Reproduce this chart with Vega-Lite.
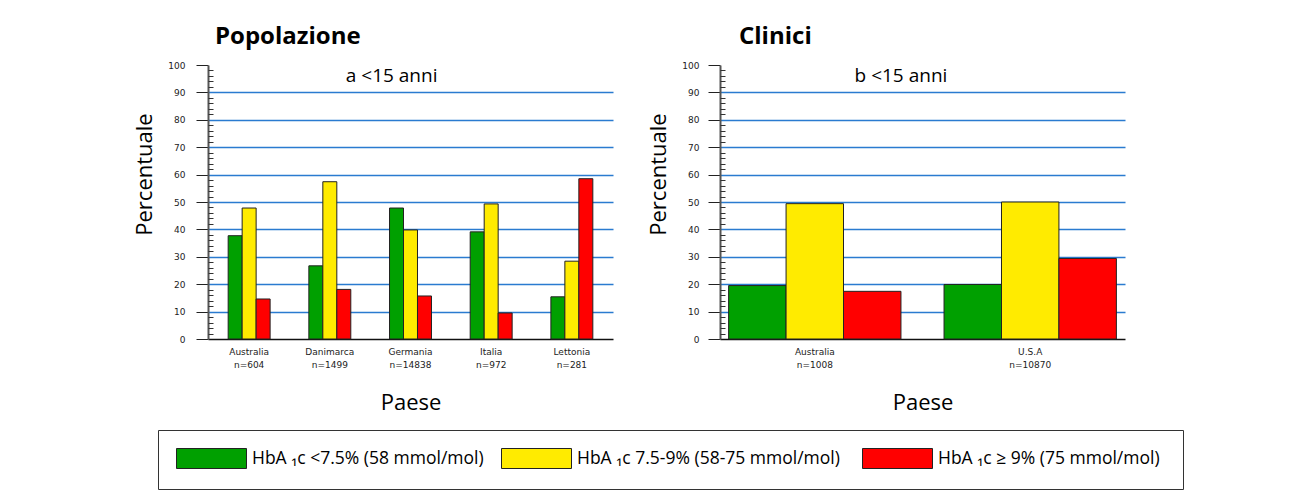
{
  "$schema": "https://vega.github.io/schema/vega-lite/v6.json",
  "background": "white",
  "padding": {"left": 133, "top": 25, "right": 5, "bottom": 5},
  "data": {"values": [
    {"pannello": "Popolazione", "paese": "Australia\nn=604", "livello": "HbA ₁c <7.5% (58 mmol/mol)", "pct": 37.7},
    {"pannello": "Popolazione", "paese": "Australia\nn=604", "livello": "HbA ₁c  7.5-9% (58-75 mmol/mol)", "pct": 47.8},
    {"pannello": "Popolazione", "paese": "Australia\nn=604", "livello": "HbA ₁c  ≥ 9% (75 mmol/mol)", "pct": 14.6},
    {"pannello": "Popolazione", "paese": "Danimarca\nn=1499", "livello": "HbA ₁c <7.5% (58 mmol/mol)", "pct": 26.7},
    {"pannello": "Popolazione", "paese": "Danimarca\nn=1499", "livello": "HbA ₁c  7.5-9% (58-75 mmol/mol)", "pct": 57.4},
    {"pannello": "Popolazione", "paese": "Danimarca\nn=1499", "livello": "HbA ₁c  ≥ 9% (75 mmol/mol)", "pct": 18.1},
    {"pannello": "Popolazione", "paese": "Germania\nn=14838", "livello": "HbA ₁c <7.5% (58 mmol/mol)", "pct": 47.8},
    {"pannello": "Popolazione", "paese": "Germania\nn=14838", "livello": "HbA ₁c  7.5-9% (58-75 mmol/mol)", "pct": 39.8},
    {"pannello": "Popolazione", "paese": "Germania\nn=14838", "livello": "HbA ₁c  ≥ 9% (75 mmol/mol)", "pct": 15.7},
    {"pannello": "Popolazione", "paese": "Italia\nn=972", "livello": "HbA ₁c <7.5% (58 mmol/mol)", "pct": 39.1},
    {"pannello": "Popolazione", "paese": "Italia\nn=972", "livello": "HbA ₁c  7.5-9% (58-75 mmol/mol)", "pct": 49.3},
    {"pannello": "Popolazione", "paese": "Italia\nn=972", "livello": "HbA ₁c  ≥ 9% (75 mmol/mol)", "pct": 9.5},
    {"pannello": "Popolazione", "paese": "Lettonia\nn=281", "livello": "HbA ₁c <7.5% (58 mmol/mol)", "pct": 15.4},
    {"pannello": "Popolazione", "paese": "Lettonia\nn=281", "livello": "HbA ₁c  7.5-9% (58-75 mmol/mol)", "pct": 28.4},
    {"pannello": "Popolazione", "paese": "Lettonia\nn=281", "livello": "HbA ₁c  ≥ 9% (75 mmol/mol)", "pct": 58.5},
    {"pannello": "Clinici", "paese": "Australia\nn=1008", "livello": "HbA ₁c <7.5% (58 mmol/mol)", "pct": 19.5},
    {"pannello": "Clinici", "paese": "Australia\nn=1008", "livello": "HbA ₁c  7.5-9% (58-75 mmol/mol)", "pct": 49.4},
    {"pannello": "Clinici", "paese": "Australia\nn=1008", "livello": "HbA ₁c  ≥ 9% (75 mmol/mol)", "pct": 17.4},
    {"pannello": "Clinici", "paese": "U.S.A\nn=10870", "livello": "HbA ₁c <7.5% (58 mmol/mol)", "pct": 19.9},
    {"pannello": "Clinici", "paese": "U.S.A\nn=10870", "livello": "HbA ₁c  7.5-9% (58-75 mmol/mol)", "pct": 50.0},
    {"pannello": "Clinici", "paese": "U.S.A\nn=10870", "livello": "HbA ₁c  ≥ 9% (75 mmol/mol)", "pct": 29.4}
  ]},
  "spacing": 34,
  "resolve": {"scale": {"x": "independent", "xOffset": "independent", "y": "independent", "color": "shared"}, "legend": {"color": "shared"}},
  "hconcat": [
    {
      "title": {"text": "Popolazione", "anchor": "start", "frame": "group", "dx": 7, "fontSize": 24, "font": "Open Sans", "fontWeight": "bold", "baseline": "alphabetic", "offset": -7, "color": "#000"},
      "width": 405,
      "height": 274,
      "layer": [
        {
          "transform": [{"filter": "datum.pannello === 'Popolazione'"}],
          "mark": {"type": "bar", "stroke": "#222", "strokeWidth": 1},
          "encoding": {
            "x": {"field": "paese", "type": "nominal", "sort": null,
              "scale": {"paddingInner": 0.48, "paddingOuter": 0.25},
              "axis": {"title": "Paese", "titleFont": "Open Sans", "titleFontSize": 22, "titleFontWeight": "normal", "titleColor": "#000", "titlePadding": 23,
                "labelExpr": "split(datum.label, '\\n')", "labelFont": "DejaVu Sans", "labelFontSize": 9, "labelColor": "#222", "labelPadding": 8, "labelLineHeight": 13, "labelAngle": 0,
                "ticks": false, "domainColor": "#111", "domainWidth": 1.5, "grid": false}},
            "xOffset": {"field": "livello", "type": "nominal", "sort": null,
              "scale": {"domain": ["HbA ₁c <7.5% (58 mmol/mol)", "HbA ₁c  7.5-9% (58-75 mmol/mol)", "HbA ₁c  ≥ 9% (75 mmol/mol)"], "paddingInner": 0, "paddingOuter": 0}},
            "y": {"field": "pct", "type": "quantitative", "scale": {"domain": [0, 100], "nice": false},
              "axis": {"values": [0, 10, 20, 30, 40, 50, 60, 70, 80, 90, 100], "title": "Percentuale", "titleFont": "Open Sans", "titleFontSize": 22, "titleFontWeight": "normal", "titleColor": "#000", "titlePadding": 11, "titleY": 109,
                "labelFont": "DejaVu Sans", "labelFontSize": 9, "labelColor": "#222", "labelPadding": 11,
                "tickSize": 12, "tickColor": "#222", "tickWidth": 1, "domainColor": "#555", "domainWidth": 2,
                "grid": true, "gridColor": "#2a7bd0", "gridWidth": 1.5,
                "gridOpacity": {"condition": {"test": "datum.value === 0 || datum.value === 100", "value": 0}, "value": 1}}},
            "color": {"field": "livello", "type": "nominal",
              "scale": {"domain": ["HbA ₁c <7.5% (58 mmol/mol)", "HbA ₁c  7.5-9% (58-75 mmol/mol)", "HbA ₁c  ≥ 9% (75 mmol/mol)"], "range": ["#00a000", "#ffeb00", "#ff0000"]},
              "legend": {"title": null, "orient": "none", "legendX": -50, "legendY": 365}}
          }
        },
        {
          "data": {"values": [{"etichetta": "a <15 anni"}]},
          "mark": {"type": "text", "font": "Open Sans", "fontSize": 19, "baseline": "middle", "align": "center", "color": "#000"},
          "encoding": {
            "text": {"field": "etichetta"},
            "x": {"datum": "Germania\nn=14838", "type": "nominal", "bandPosition": 0.05},
            "y": {"datum": 96, "type": "quantitative",
              "axis": {"orient": "left", "values": [2, 4, 6, 8, 12, 14, 16, 18, 22, 24, 26, 28, 32, 34, 36, 38, 42, 44, 46, 48, 52, 54, 56, 58, 62, 64, 66, 68, 72, 74, 76, 78, 82, 84, 86, 88, 92, 94, 96, 98],
                "tickSize": -5, "tickColor": "#333", "labels": false, "domain": false, "grid": false, "title": null}}
          }
        }
      ],
      "resolve": {"axis": {"y": "independent"}}
    },
    {
      "title": {"text": "Clinici", "anchor": "start", "frame": "group", "dx": 19, "fontSize": 24, "font": "Open Sans", "fontWeight": "bold", "baseline": "alphabetic", "offset": -7, "color": "#000"},
      "width": 405,
      "height": 274,
      "layer": [
        {
          "transform": [{"filter": "datum.pannello === 'Clinici'"}],
          "mark": {"type": "bar", "stroke": "#222", "strokeWidth": 1},
          "encoding": {
            "x": {"field": "paese", "type": "nominal", "sort": null,
              "scale": {"paddingInner": 0.2, "paddingOuter": 0.04},
              "axis": {"title": "Paese", "titleFont": "Open Sans", "titleFontSize": 22, "titleFontWeight": "normal", "titleColor": "#000", "titlePadding": 23,
                "labelExpr": "split(datum.label, '\\n')", "labelFont": "DejaVu Sans", "labelFontSize": 9, "labelColor": "#222", "labelPadding": 8, "labelLineHeight": 13, "labelAngle": 0,
                "ticks": false, "domainColor": "#111", "domainWidth": 1.5, "grid": false}},
            "xOffset": {"field": "livello", "type": "nominal", "sort": null,
              "scale": {"domain": ["HbA ₁c <7.5% (58 mmol/mol)", "HbA ₁c  7.5-9% (58-75 mmol/mol)", "HbA ₁c  ≥ 9% (75 mmol/mol)"], "paddingInner": 0, "paddingOuter": 0}},
            "y": {"field": "pct", "type": "quantitative", "scale": {"domain": [0, 100], "nice": false},
              "axis": {"values": [0, 10, 20, 30, 40, 50, 60, 70, 80, 90, 100], "title": "Percentuale", "titleFont": "Open Sans", "titleFontSize": 22, "titleFontWeight": "normal", "titleColor": "#000", "titlePadding": 11, "titleY": 109,
                "labelFont": "DejaVu Sans", "labelFontSize": 9, "labelColor": "#222", "labelPadding": 9,
                "tickSize": 12, "tickColor": "#222", "tickWidth": 1, "domainColor": "#555", "domainWidth": 2,
                "grid": true, "gridColor": "#2a7bd0", "gridWidth": 1.5,
                "gridOpacity": {"condition": {"test": "datum.value === 0 || datum.value === 100", "value": 0}, "value": 1}}},
            "color": {"field": "livello", "type": "nominal",
              "scale": {"domain": ["HbA ₁c <7.5% (58 mmol/mol)", "HbA ₁c  7.5-9% (58-75 mmol/mol)", "HbA ₁c  ≥ 9% (75 mmol/mol)"], "range": ["#00a000", "#ffeb00", "#ff0000"]},
              "legend": {"title": null, "orient": "none", "legendX": -50, "legendY": 365}}
          }
        },
        {
          "data": {"values": [{"etichetta": "b <15 anni"}]},
          "mark": {"type": "text", "font": "Open Sans", "fontSize": 19, "baseline": "middle", "align": "center", "color": "#000"},
          "encoding": {
            "text": {"field": "etichetta"},
            "x": {"datum": "Australia\nn=1008", "type": "nominal", "bandPosition": 1},
            "y": {"datum": 96, "type": "quantitative",
              "axis": {"orient": "left", "values": [2, 4, 6, 8, 12, 14, 16, 18, 22, 24, 26, 28, 32, 34, 36, 38, 42, 44, 46, 48, 52, 54, 56, 58, 62, 64, 66, 68, 72, 74, 76, 78, 82, 84, 86, 88, 92, 94, 96, 98],
                "tickSize": -5, "tickColor": "#333", "labels": false, "domain": false, "grid": false, "title": null}}
          }
        }
      ],
      "resolve": {"axis": {"y": "independent"}}
    }
  ],
  "config": {
    "view": {"stroke": null},
    "legend": {
      "direction": "horizontal",
      "columns": 3,
      "gridAlign": "none",
      "symbolType": "M-1,-1H6V1H-1Z",
      "symbolSize": 400,
      "symbolStrokeColor": "#222",
      "symbolStrokeWidth": 1,
      "labelFont": "Open Sans",
      "labelFontSize": 17.5,
      "labelColor": "#000",
      "labelLimit": 400,
      "labelOffset": 55,
      "columnPadding": 15,
      "padding": 18,
      "strokeColor": "#333",
      "strokeWidth": 1
    }
  }
}
